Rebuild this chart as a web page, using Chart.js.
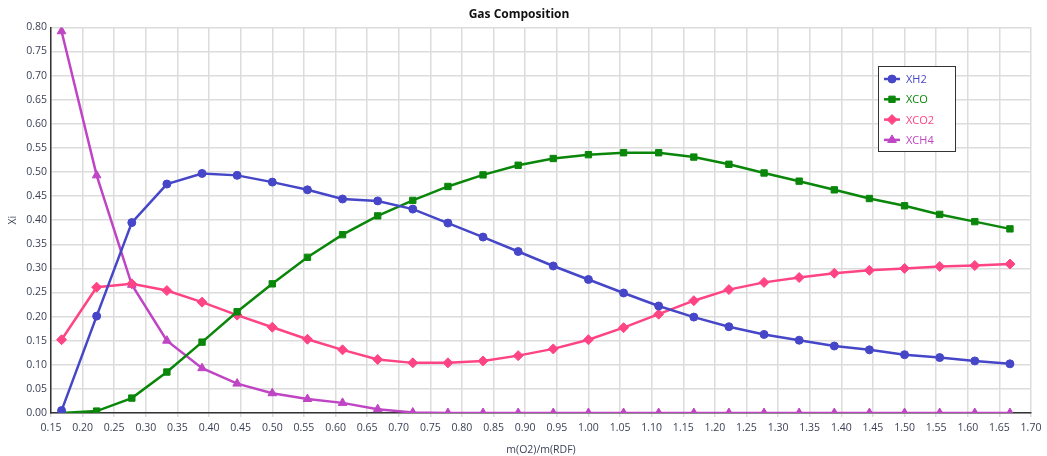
<!DOCTYPE html>
<html lang="en">
<head>
    <meta charset="UTF-8">
    <title>Gas Composition</title>
    <script src="https://cdn.jsdelivr.net/npm/chart.js@4.4.1/dist/chart.umd.min.js"></script>
    <style>
        body { margin: 0; background: #fff; }
    </style>
</head>
<body>
    <canvas id="grafico" width="1047" height="456"></canvas>

<script>
    // razao m(O2)/m(RDF)
    var razao = [0.1667, 0.2222, 0.2778, 0.3333, 0.3889, 0.4444, 0.5000, 0.5556, 0.6111, 0.6667,
        0.7222, 0.7778, 0.8333, 0.8889, 0.9444, 1.0000, 1.0556, 1.1111, 1.1667, 1.2222,
        1.2778, 1.3333, 1.3889, 1.4444, 1.5000, 1.5556, 1.6111, 1.6667];

    var xh2 = [0.005, 0.201, 0.395, 0.475, 0.497, 0.493, 0.479, 0.463, 0.444, 0.440,
        0.423, 0.394, 0.365, 0.335, 0.305, 0.277, 0.249, 0.222, 0.199, 0.179,
        0.163, 0.151, 0.139, 0.131, 0.121, 0.115, 0.108, 0.102];

    var xco = [0.000, 0.004, 0.031, 0.085, 0.147, 0.210, 0.268, 0.323, 0.370, 0.409,
        0.441, 0.470, 0.494, 0.514, 0.528, 0.536, 0.540, 0.540, 0.531, 0.516,
        0.498, 0.481, 0.463, 0.445, 0.430, 0.412, 0.397, 0.382];

    var xco2 = [0.152, 0.261, 0.268, 0.254, 0.230, 0.203, 0.178, 0.153, 0.131, 0.111,
        0.104, 0.104, 0.108, 0.119, 0.133, 0.152, 0.177, 0.205, 0.233, 0.256,
        0.271, 0.281, 0.290, 0.296, 0.300, 0.304, 0.306, 0.309];

    var xch4 = [0.792, 0.493, 0.266, 0.150, 0.093, 0.061, 0.041, 0.029, 0.021, 0.008,
        0.001, 0.000, 0.000, 0.000, 0.000, 0.000, 0.000, 0.000, 0.000, 0.000,
        0.000, 0.000, 0.000, 0.000, 0.000, 0.000, 0.000, 0.000];

    var nomes = ['XH2', 'XCO', 'XCO2', 'XCH4'];
    var cores = ['#4646c8', '#0a870a', '#ff4485', '#bf45c4'];
    var marcadores = ['circle', 'rect', 'rectRot', 'triangle'];
    var tamanhos = [4, 4.5, 5, 5];

    function serie(valores) {
        return razao.map(function (x, i) { return { x: x, y: valores[i] }; });
    }

    var series = [xh2, xco, xco2, xch4];

    var datasets = series.map(function (valores, i) {
        return {
            label: nomes[i],
            data: serie(valores),
            borderColor: cores[i],
            backgroundColor: cores[i],
            borderWidth: 2.5,
            pointStyle: marcadores[i],
            pointRadius: tamanhos[i],
            pointBorderWidth: 1,
            tension: 0
        };
    });

    // legenda desenhada dentro da area do grafico, com borda
    var legendaCaixa = {
        id: 'legendaCaixa',
        afterDatasetsDraw: function (chart) {
            var ctx = chart.ctx;
            var x0 = 878, y0 = 66, w = 77, h = 85;
            ctx.save();
            ctx.fillStyle = '#ffffff';
            ctx.fillRect(x0, y0, w, h);
            ctx.strokeStyle = '#333333';
            ctx.lineWidth = 1;
            ctx.strokeRect(x0 + 0.5, y0 + 0.5, w, h);
            ctx.font = '11px "Open Sans", sans-serif';
            ctx.textBaseline = 'middle';
            for (var i = 0; i < nomes.length; i++) {
                var yy = y0 + 13 + i * 20.3;
                ctx.strokeStyle = cores[i];
                ctx.lineWidth = 2.5;
                ctx.beginPath();
                ctx.moveTo(x0 + 6, yy);
                ctx.lineTo(x0 + 22, yy);
                ctx.stroke();
                ctx.fillStyle = cores[i];
                ctx.lineWidth = 1;
                Chart.helpers.drawPoint(ctx, {
                    pointStyle: marcadores[i],
                    radius: tamanhos[i],
                    borderWidth: 1
                }, x0 + 14, yy);
                ctx.fillStyle = cores[i];
                ctx.fillText(nomes[i], x0 + 28, yy + 1);
            }
            ctx.restore();
        }
    };

    var fonteTicks = { family: '"Open Sans", sans-serif', size: 10.5 };

    var ctx = document.getElementById('grafico').getContext('2d');
    var grafico = new Chart(ctx, {
        type: 'line',
        data: { datasets: datasets },
        options: {
            responsive: false,
            animation: false,
            layout: { padding: { left: 7, right: 16, top: 1, bottom: 0 } },
            plugins: {
                legend: { display: false },
                tooltip: { enabled: false },
                title: {
                    display: true,
                    text: 'Gas Composition',
                    color: '#111',
                    font: { family: '"Open Sans", sans-serif', size: 12, weight: 'bold' },
                    padding: { top: 6, bottom: 6 }
                }
            },
            scales: {
                x: {
                    type: 'linear',
                    min: 0.15,
                    max: 1.70,
                    afterFit: function (scale) { scale.height = 43; },
                    ticks: {
                        stepSize: 0.05,
                        color: '#3a3f55',
                        font: fonteTicks,
                        maxRotation: 0,
                        autoSkip: false,
                        padding: 5,
                        callback: function (v) { return Number(v).toFixed(2); }
                    },
                    grid: { color: '#dcdcdc', lineWidth: 1.5, tickLength: 4, tickColor: '#dcdcdc' },
                    border: { color: '#333', width: 1.5 },
                    title: {
                        display: true,
                        text: 'm(O2)/m(RDF)',
                        color: '#3a3f55',
                        font: { family: '"Open Sans", sans-serif', size: 10.5 },
                        padding: { top: 3, bottom: 0 }
                    }
                },
                y: {
                    min: 0,
                    max: 0.80,
                    afterFit: function (scale) { scale.width = 44; },
                    ticks: {
                        stepSize: 0.05,
                        color: '#3a3f55',
                        font: fonteTicks,
                        padding: 4,
                        callback: function (v) { return Number(v).toFixed(2); }
                    },
                    grid: { color: '#dcdcdc', lineWidth: 1.5, drawTicks: false },
                    border: { color: '#333', width: 1.5 },
                    title: {
                        display: true,
                        text: 'Xi',
                        color: '#3a3f55',
                        font: { family: '"Open Sans", sans-serif', size: 10.5 },
                        padding: { top: 0, bottom: 0 }
                    }
                }
            }
        },
        plugins: [legendaCaixa]
    });
</script>
</body>
</html>
